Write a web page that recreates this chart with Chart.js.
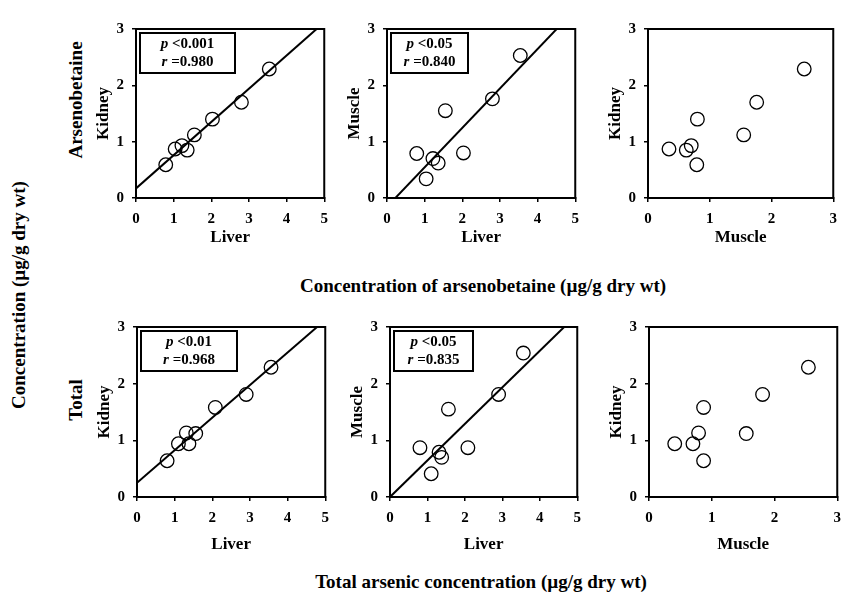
<!DOCTYPE html>
<html>
<head>
<meta charset="utf-8">
<script src="https://cdn.jsdelivr.net/npm/chart.js@4.4.1/dist/chart.umd.min.js"></script>
<style>
  body { margin: 0; background: #fff; width: 844px; height: 593px; position: relative; overflow: hidden; }
  canvas { position: absolute; }
  .lbl { position: absolute; white-space: nowrap; font-family: 'Liberation Serif', serif; font-weight: bold; font-size: 19px; line-height: 19px; color: #000; transform: translate(-50%, -50%); }
  .rot { transform: translate(-50%, -50%) rotate(-90deg); }
</style>
</head>
<body>
<div class="lbl rot" style="left:18px; top:295px;">Concentration (µg/g dry wt)</div>
<div class="lbl rot" style="left:75px; top:100px;">Arsenobetaine</div>
<div class="lbl rot" style="left:75px; top:400px;">Total</div>
<div class="lbl" style="left:483px; top:285px;">Concentration of arsenobetaine (µg/g dry wt)</div>
<div class="lbl" style="left:481px; top:581px;">Total arsenic concentration (µg/g dry wt)</div>

<canvas id="c1"></canvas>
<canvas id="c2"></canvas>
<canvas id="c3"></canvas>
<canvas id="c4"></canvas>
<canvas id="c5"></canvas>
<canvas id="c6"></canvas>

<script>
// arsenobetaine (µg/g dry wt), one entry per fish
const liverAB  = [0.79, 1.04, 1.22, 1.36, 1.55, 2.03, 2.80, 3.54];
const kidneyAB = [0.59, 0.87, 0.93, 0.85, 1.12, 1.40, 1.70, 2.29];
const muscleAB = [0.79, 0.34, 0.70, 0.62, 1.55, 0.80, 1.76, 2.53];

// total arsenic (µg/g dry wt)
const liverT  = [0.80, 1.10, 1.31, 1.38, 1.56, 2.08, 2.90, 3.56];
const kidneyT = [0.64, 0.94, 1.13, 0.94, 1.12, 1.58, 1.81, 2.29];
const muscleT = [0.87, 0.41, 0.79, 0.70, 1.55, 0.87, 1.81, 2.54];

// regression lines [intercept, slope]
const fitKidneyLiverAB = [0.17, 0.59];
const fitMuscleLiverAB = [-0.155, 0.70];
const fitKidneyLiverT  = [0.25, 0.575];
const fitMuscleLiverT  = [0.0, 0.645];

const pLabels = ['<0.001', '<0.05', '<0.01', '<0.05'];
const rLabels = ['=0.980', '=0.840', '=0.968', '=0.835'];

const xTicksLiver = [0, 1, 2, 3, 4, 5];
const xTicksMuscle = [0, 1, 2, 3];
const yTicks = [0, 1, 2, 3];

const FONT = "'Liberation Serif', serif";
const AXW = 47, PADT = 8, PADR = 8;

// plot area rectangles in page px: left, top, right, bottom
const panels = [
  { id: 'c1', rect: [136, 20, 328, 198], axH: 54, x: liverAB, y: kidneyAB, xTitle: 'Liver', yTitle: 'Kidney', xMax: 5, fit: fitKidneyLiverAB, stat: 0, boxW: 95 },
  { id: 'c2', rect: [387, 20, 579, 198], axH: 54, x: liverAB, y: muscleAB, xTitle: 'Liver', yTitle: 'Muscle', xMax: 5, fit: fitMuscleLiverAB, stat: 1, boxW: 77 },
  { id: 'c3', rect: [648, 20, 837, 198], axH: 54, x: muscleAB, y: kidneyAB, xTitle: 'Muscle', yTitle: 'Kidney', xMax: 3 },
  { id: 'c4', rect: [137, 318, 329, 497], axH: 62, x: liverT, y: kidneyT, xTitle: 'Liver', yTitle: 'Kidney', xMax: 5, fit: fitKidneyLiverT, stat: 2, boxW: 96 },
  { id: 'c5', rect: [390, 318, 581, 497], axH: 62, x: liverT, y: muscleT, xTitle: 'Liver', yTitle: 'Muscle', xMax: 5, fit: fitMuscleLiverT, stat: 3, boxW: 79 },
  { id: 'c6', rect: [649, 318, 841, 497], axH: 62, x: muscleT, y: kidneyT, xTitle: 'Muscle', yTitle: 'Kidney', xMax: 3 }
];

const framePlugin = {
  id: 'frame',
  afterDraw(chart, args, opts) {
    const { ctx, chartArea: a } = chart;
    ctx.save();
    ctx.strokeStyle = '#000';
    ctx.lineWidth = 2;
    ctx.strokeRect(a.left, a.top, a.right - a.left, a.bottom - a.top);
    if (opts.stat !== undefined) {
      const bx = a.left + 4, by = a.top + 4, bw = opts.boxW, bh = 40;
      ctx.strokeRect(bx, by, bw, bh);
      ctx.fillStyle = '#000';
      ctx.textBaseline = 'middle';
      const lines = [['p ', pLabels[opts.stat]], ['r ', rLabels[opts.stat]]];
      lines.forEach((ln, i) => {
        ctx.font = 'italic bold 15px ' + FONT;
        const w1 = ctx.measureText(ln[0]).width;
        ctx.font = 'bold 15px ' + FONT;
        const w2 = ctx.measureText(ln[1]).width;
        const x0 = bx + bw / 2 - (w1 + w2) / 2;
        const yy = by + 11 + i * 18;
        ctx.font = 'italic bold 15px ' + FONT;
        ctx.fillText(ln[0], x0, yy);
        ctx.font = 'bold 15px ' + FONT;
        ctx.fillText(ln[1], x0 + w1, yy);
      });
    }
    ctx.restore();
  }
};

panels.forEach(p => {
  const [L, T, R, B] = p.rect;
  const cv = document.getElementById(p.id);
  cv.width = (R - L) + AXW + PADR;
  cv.height = (B - T) + PADT + p.axH;
  cv.style.left = (L - AXW) + 'px';
  cv.style.top = (T - PADT) + 'px';

  const datasets = [{
    data: p.x.map((v, i) => ({ x: v, y: p.y[i] })),
    pointRadius: 6.8,
    pointBorderWidth: 1.3,
    pointBorderColor: '#000',
    pointBackgroundColor: 'rgba(0,0,0,0)',
    showLine: false
  }];
  if (p.fit) {
    const [b, m] = p.fit;
    datasets.push({
      data: [{ x: 0, y: b }, { x: p.xMax, y: b + m * p.xMax }],
      showLine: true,
      borderColor: '#000',
      borderWidth: 2,
      pointRadius: 0
    });
  }
  const xTicks = p.xMax === 5 ? xTicksLiver : xTicksMuscle;

  new Chart(cv.getContext('2d'), {
    type: 'scatter',
    data: { datasets },
    plugins: [framePlugin],
    options: {
      responsive: false,
      animation: false,
      devicePixelRatio: 1,
      layout: { padding: { left: 0, top: PADT, right: PADR, bottom: 0 } },
      plugins: {
        legend: { display: false },
        tooltip: { enabled: false },
        frame: { stat: p.stat, boxW: p.boxW }
      },
      scales: {
        x: {
          type: 'linear', min: 0, max: p.xMax,
          afterBuildTicks: s => { s.ticks = xTicks.map(v => ({ value: v })); },
          afterFit: s => { s.height = p.axH; },
          border: { display: true, color: '#000', width: 2 },
          grid: { drawOnChartArea: false, drawTicks: true, tickLength: 4, color: '#000', lineWidth: 1.5 },
          ticks: { color: '#000', padding: 8, maxRotation: 0, font: { family: FONT, size: 15, weight: 'bold' } },
          title: { display: true, text: p.xTitle, color: '#000', font: { family: FONT, size: 17, weight: 'bold' } }
        },
        y: {
          type: 'linear', min: 0, max: 3,
          afterBuildTicks: s => { s.ticks = yTicks.map(v => ({ value: v })); },
          afterFit: s => { s.width = AXW; },
          border: { display: true, color: '#000', width: 2 },
          grid: { drawOnChartArea: false, drawTicks: true, tickLength: 4, color: '#000', lineWidth: 1.5 },
          ticks: { color: '#000', padding: 8, font: { family: FONT, size: 15, weight: 'bold' } },
          title: { display: true, text: p.yTitle, color: '#000', font: { family: FONT, size: 17, weight: 'bold' } }
        }
      }
    }
  });
});
</script>
</body>
</html>
